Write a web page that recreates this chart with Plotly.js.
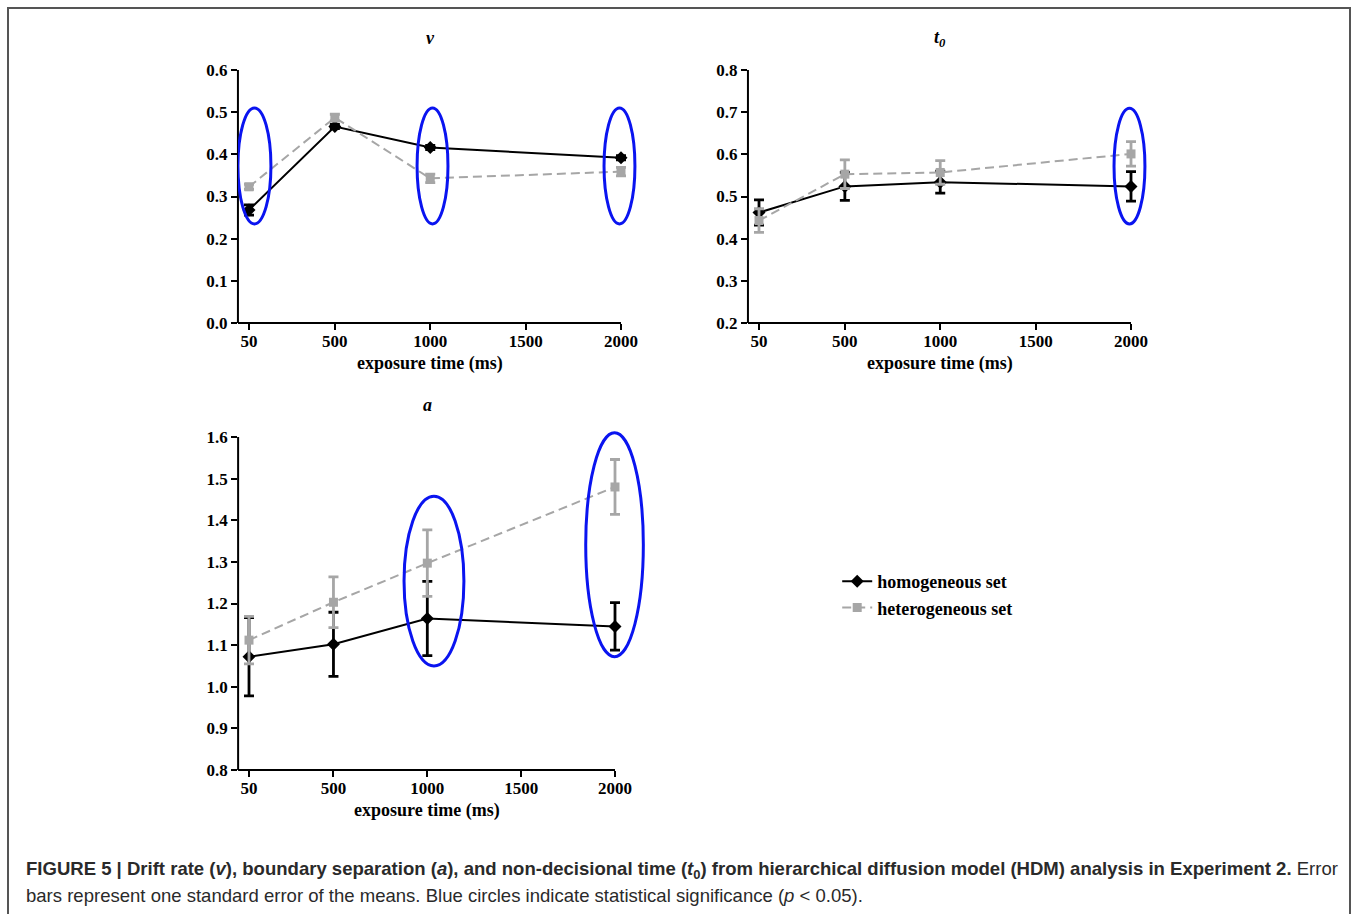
<!DOCTYPE html>
<html>
<head>
<meta charset="utf-8">
<script src="https://cdn.plot.ly/plotly-3.0.1.min.js"></script>
<style>
html,body{margin:0;padding:0;background:#fff;}
#chart{width:1358px;height:914px;}
</style>
</head>
<body>
<div id="chart"></div>
<script>
// ---- data ----
const exposureTimes = [50, 500, 1000, 2000];
const xTickVals = [50, 500, 1000, 1500, 2000];
const xTickText = ['50', '500', '1000', '1500', '2000'];

// drift rate v
const vHomo = [0.268, 0.466, 0.416, 0.392];
const vHomoErr = [0.012, 0.005, 0.005, 0.005];
const vHetero = [0.323, 0.487, 0.343, 0.359];
const vHeteroErr = [0.006, 0.008, 0.010, 0.010];

// non-decisional time t0
const t0Homo = [0.462, 0.524, 0.534, 0.524];
const t0HomoErr = [0.030, 0.033, 0.026, 0.035];
const t0Hetero = [0.443, 0.553, 0.557, 0.601];
const t0HeteroErr = [0.028, 0.034, 0.028, 0.029];

// boundary separation a
const aHomo = [1.072, 1.102, 1.164, 1.145];
const aHomoErr = [0.094, 0.077, 0.089, 0.057];
const aHetero = [1.112, 1.203, 1.297, 1.480];
const aHeteroErr = [0.057, 0.061, 0.080, 0.066];

// significance ellipses (x0, x1, y0, y1) in data units
const vSig = [[-8, 165, 0.235, 0.510], [931, 1093, 0.235, 0.510], [1911, 2073, 0.235, 0.510]];
const t0Sig = [[1911, 2073, 0.435, 0.709]];
const aSig = [[876, 1195, 1.050, 1.458], [1844, 2151, 1.072, 1.610]];

const seriesNames = ['homogeneous set', 'heterogeneous set'];

// ---- styling / layout ----
const serif = 'Liberation Serif, Times New Roman, serif';
const panels = [
  {key: '', title: '<b><i>v</i></b>', homo: vHomo, homoErr: vHomoErr, het: vHetero, hetErr: vHeteroErr,
   sig: vSig, xr: [-8, 2090], yr: [0, 0.6], ytop: 0.6, ybot: 0, dtick: 0.1,
   xd: [0.17521, 0.46994], yd: [0.64661, 0.92341], titleShift: 32},
  {key: '2', title: '<b><i>t<sub>0</sub></i></b>', homo: t0Homo, homoErr: t0HomoErr, het: t0Hetero, hetErr: t0HeteroErr,
   sig: t0Sig, xr: [-8, 2090], yr: [0.2, 0.8], ytop: 0.8, ybot: 0.2, dtick: 0.1,
   xd: [0.55077, 0.84549], yd: [0.64661, 0.92341], titleShift: 32},
  {key: '3', title: '<b><i>a</i></b>', homo: aHomo, homoErr: aHomoErr, het: aHetero, hetErr: aHeteroErr,
   sig: aSig, xr: [-8, 2165], yr: [0.8, 1.62], ytop: 1.6, ybot: 0.8, dtick: 0.1,
   xd: [0.17534, 0.47568], yd: [0.15755, 0.53096], titleShift: 24}
];

const traces = [];
const shapes = [];
const annotations = [];
const layout = {
  width: 1358, height: 914,
  margin: {l: 0, r: 0, t: 0, b: 0},
  paper_bgcolor: '#ffffff', plot_bgcolor: 'rgba(0,0,0,0)',
  font: {family: serif, size: 16, color: '#000'},
  showlegend: true,
  legend: {x: 0.6165, y: 0.384, xanchor: 'left', yanchor: 'top',
           font: {family: serif, size: 18, color: '#000', weight: 'bold'},
           tracegroupgap: 0, itemwidth: 30, bgcolor: 'rgba(0,0,0,0)'},
  shapes: shapes, annotations: annotations
};

panels.forEach((p, i) => {
  const xa = 'x' + p.key, ya = 'y' + p.key;
  traces.push({
    type: 'scatter', mode: 'lines+markers', name: seriesNames[0], legendgroup: 'h',
    showlegend: i === 0, xaxis: xa, yaxis: ya, cliponaxis: false,
    x: exposureTimes, y: p.homo,
    error_y: {type: 'data', array: p.homoErr, visible: true, color: '#000', thickness: 2.8, width: 5},
    line: {color: '#000', width: 2},
    marker: {symbol: 'diamond', size: 10, color: '#000'}
  });
  traces.push({
    type: 'scatter', mode: 'lines+markers', name: seriesNames[1], legendgroup: 'g',
    showlegend: i === 0, xaxis: xa, yaxis: ya, cliponaxis: false,
    x: exposureTimes, y: p.het,
    error_y: {type: 'data', array: p.hetErr, visible: true, color: '#a6a6a6', thickness: 2.8, width: 5},
    line: {color: '#a6a6a6', width: 2, dash: '9px,5px'},
    marker: {symbol: 'square', size: 9, color: '#a6a6a6'}
  });
  const axName = 'xaxis' + p.key, ayName = 'yaxis' + p.key;
  layout[axName] = {
    domain: p.xd, range: p.xr, anchor: ya,
    tickvals: xTickVals, ticktext: xTickText,
    ticks: 'outside', ticklen: 6, tickwidth: 2, tickcolor: '#000',
    ticklabelstandoff: -3,
    showline: false, showgrid: false, zeroline: false,
    tickfont: {family: serif, size: 17, color: '#000', weight: 'bold'}
  };
  const yt = [];
  for (let k = 0; p.ybot + k * p.dtick <= p.ytop + 1e-9; k++) yt.push(+(p.ybot + k * p.dtick).toFixed(1));
  layout[ayName] = {
    domain: p.yd, range: p.yr, anchor: xa,
    tickvals: yt, ticktext: yt.map(v => v.toFixed(1)),
    ticks: 'outside', ticklen: 6, tickwidth: 2, tickcolor: '#000',
    showline: false, showgrid: false, zeroline: false,
    tickfont: {family: serif, size: 17, color: '#000', weight: 'bold'}
  };

  // axis lines (stop at 2000 and at top tick)
  shapes.push({type: 'line', xref: xa, yref: ya + ' domain', x0: p.xr[0], x1: xTickVals[xTickVals.length - 1], y0: 0, y1: 0,
               line: {color: '#000', width: 2}, layer: 'above'});
  shapes.push({type: 'line', xref: xa + ' domain', yref: ya, x0: 0, x1: 0, y0: p.ybot, y1: p.ytop,
               line: {color: '#000', width: 2}, layer: 'above'});
  // significance ellipses
  p.sig.forEach(s => {
    shapes.push({type: 'circle', xref: xa, yref: ya, x0: s[0], x1: s[1], y0: s[2], y1: s[3],
                 line: {color: '#0a14f0', width: 3}, fillcolor: 'rgba(0,0,0,0)', layer: 'above'});
  });
  // panel title
  annotations.push({text: p.title, xref: xa, yref: ya + ' domain', x: 1000, y: 1, yshift: p.titleShift,
                    yanchor: 'middle', showarrow: false, font: {family: serif, size: 18, color: '#000'}});
  // x-axis title
  annotations.push({text: '<b>exposure time (ms)</b>', xref: xa, yref: ya + ' domain', x: 1000, y: 0, yshift: -41,
                    yanchor: 'middle', showarrow: false, font: {family: serif, size: 18, color: '#000'}});
});

// figure frame
shapes.push({type: 'rect', xref: 'paper', yref: 'paper', x0: 8 / 1358, x1: 1350 / 1358, y0: -0.05, y1: 1 - 8 / 914,
             line: {color: '#555', width: 2}, fillcolor: 'rgba(0,0,0,0)', layer: 'below'});

// caption
const capFont = {family: 'Liberation Sans, Arial, sans-serif', size: 18.55, color: '#2a2a2a'};
annotations.push({xref: 'paper', yref: 'paper', x: 24 / 1358, y: 1 - 870 / 914, xanchor: 'left', yanchor: 'middle',
  showarrow: false, font: capFont, align: 'left',
  text: '<b>FIGURE 5 | Drift rate (<i>v</i>), boundary separation (<i>a</i>), and non-decisional time (<i>t</i><sub>0</sub>) from hierarchical diffusion model (HDM) analysis in Experiment 2.</b> Error'});
annotations.push({xref: 'paper', yref: 'paper', x: 24 / 1358, y: 1 - 895 / 914, xanchor: 'left', yanchor: 'middle',
  showarrow: false, font: capFont, align: 'left',
  text: 'bars represent one standard error of the means. Blue circles indicate statistical significance (<i>p</i> &lt; 0.05).'});

Plotly.newPlot('chart', traces, layout, {displayModeBar: false, staticPlot: true});
</script>
</body>
</html>
